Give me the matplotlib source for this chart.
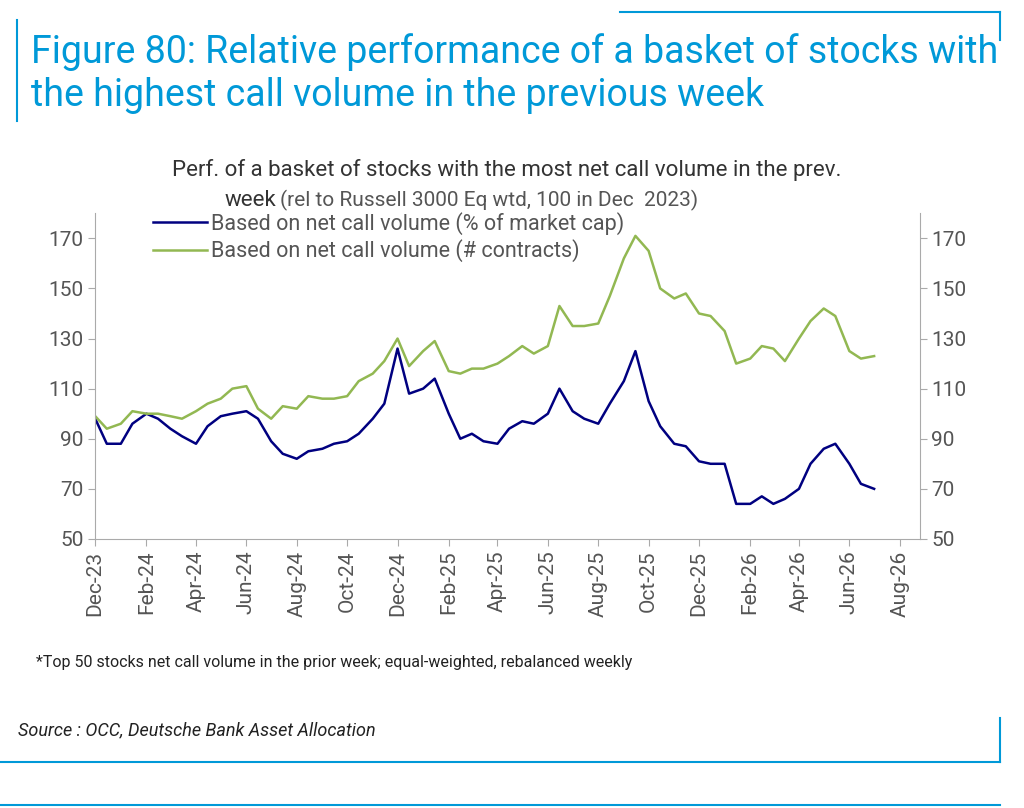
import matplotlib
matplotlib.use("Agg")
import matplotlib.pyplot as plt
import matplotlib.dates as mdates
import pandas as pd

dates = pd.date_range("2023-12-01", "2026-07-01", freq="SMS")
pct_mcap = [98, 88, 88, 96, 100, 98, 94, 91, 88, 95, 99, 100, 101, 98, 89, 84, 82, 85, 86, 88,
            89, 92, 98, 104, 126, 108, 110, 114, 100, 90, 92, 89, 88, 94, 97, 96, 100, 110, 101, 98,
            96, 104, 113, 125, 105, 95, 88, 87, 81, 80, 80, 64, 64, 67, 64, 66, 70, 80, 86, 88,
            80, 72, 70]
contracts = [99, 94, 96, 101, 100, 100, 99, 98, 101, 104, 106, 110, 111, 102, 98, 103, 102, 107, 106, 106,
             107, 113, 116, 121, 130, 119, 125, 129, 117, 116, 118, 118, 120, 123, 127, 124, 127, 143, 135, 135,
             136, 147, 162, 171, 165, 150, 146, 148, 140, 139, 133, 120, 122, 127, 126, 121, 130, 137, 142, 139,
             125, 122, 123]
yticks = [50, 70, 90, 110, 130, 150, 170]

plt.rcParams['font.family'] = ['Roboto', 'DejaVu Sans']
grey = '#555555'
blue = '#0099d8'
fig = plt.figure(figsize=(10.24, 8.08), dpi=100)
fig.text(0.03, 0.909, "Figure 80: Relative performance of a basket of stocks with\nthe highest call volume in the previous week",
         color=blue, fontsize=27, va='center', ha='left', linespacing=1.2)
fig.add_artist(plt.Line2D([0.0166, 0.0166], [0.85, 0.975], color=blue, lw=1.5))
fig.add_artist(plt.Line2D([0.605, 0.977], [0.985, 0.985], color=blue, lw=1.5))
fig.add_artist(plt.Line2D([0.977, 0.977], [0.95, 0.985], color=blue, lw=1.5))
fig.add_artist(plt.Line2D([0.0, 0.977], [0.057, 0.057], color=blue, lw=1.5))
fig.add_artist(plt.Line2D([0.977, 0.977], [0.057, 0.112], color=blue, lw=1.5))
fig.add_artist(plt.Line2D([0.0, 0.977], [0.004, 0.004], color=blue, lw=1.5))

ax = fig.add_axes([0.093, 0.333, 0.805, 0.403])
ax.plot(dates, pct_mcap, color='#000080', lw=1.8, label='Based on net call volume (% of market cap)')
ax.plot(dates, contracts, color='#92b852', lw=1.8, label='Based on net call volume (# contracts)')
ax.set_ylim(50, 180)
ax.set_yticks(yticks)
ax.set_xlim(pd.Timestamp("2023-12-01"), pd.Timestamp("2026-08-25"))
ax.xaxis.set_major_locator(mdates.MonthLocator(bymonth=[2, 4, 6, 8, 10, 12]))
ax.xaxis.set_major_formatter(mdates.DateFormatter('%b-%y'))
ax.spines['top'].set_visible(False)
for s in ['left', 'right', 'bottom']:
    ax.spines[s].set_color('#aaaaaa')
ax.tick_params(axis='x', rotation=90, labelsize=15, colors=grey, length=5, color='#aaaaaa')
ax.tick_params(axis='y', labelsize=15, colors=grey, length=5, color='#aaaaaa', right=True, labelright=True)
ax.legend(loc='upper left', bbox_to_anchor=(0.06, 1.03), frameon=False, fontsize=15.5,
          labelcolor=grey, handlelength=2.5, handletextpad=0.2, borderaxespad=0, labelspacing=0.2)
fig.text(0.495, 0.782, "Perf. of a basket of stocks with the most net call volume in the prev.",
         ha='center', fontsize=16, color='#333333')
fig.text(0.27, 0.745, "week", ha='right', fontsize=16, color='#333333')
fig.text(0.273, 0.745, "(rel to Russell 3000 Eq wtd, 100 in Dec  2023)", ha='left', fontsize=15, color=grey)
fig.text(0.035, 0.175, "*Top 50 stocks net call volume in the prior week; equal-weighted, rebalanced weekly",
         fontsize=11.5, color='#222222')
fig.text(0.018, 0.09, "Source : OCC, Deutsche Bank Asset Allocation", fontsize=13, style='italic', color='#222222')
fig.savefig("out.png", dpi=100)
